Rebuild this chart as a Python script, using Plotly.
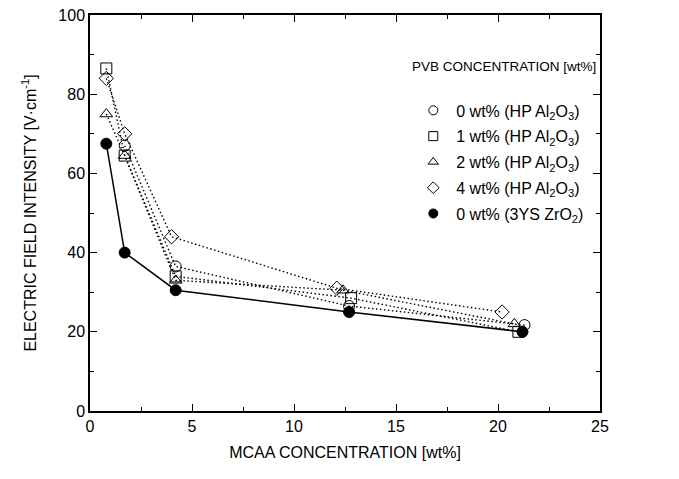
import plotly.graph_objects as go

# Data (MCAA concentration [wt%] vs electric field intensity [V/cm])
x_0 = [1.7, 4.2, 12.7, 21.3]
y_0 = [67.0, 36.5, 26.5, 21.7]
x_1 = [0.8, 1.7, 4.2, 12.8, 21.0]
y_1 = [86.5, 64.5, 34.0, 28.5, 20.0]
x_2 = [0.8, 1.7, 4.2, 12.4, 20.8]
y_2 = [75.0, 64.5, 33.0, 30.5, 22.0]
x_4 = [0.8, 1.7, 4.0, 12.1, 20.2]
y_4 = [84.0, 70.0, 44.0, 31.0, 25.0]
x_zr = [0.8, 1.7, 4.2, 12.7, 21.2]
y_zr = [67.5, 40.0, 30.5, 25.0, 20.0]

legend_title = "PVB CONCENTRATION [wt%]"
names = ["0 wt% (HP Al<sub>2</sub>O<sub>3</sub>)",
         "1 wt% (HP Al<sub>2</sub>O<sub>3</sub>)",
         "2 wt% (HP Al<sub>2</sub>O<sub>3</sub>)",
         "4 wt% (HP Al<sub>2</sub>O<sub>3</sub>)",
         "0 wt% (3YS ZrO<sub>2</sub>)"]

series = [(x_0, y_0, "circle-open", "dot"),
          (x_1, y_1, "square-open", "dot"),
          (x_2, y_2, "triangle-up-open", "dot"),
          (x_4, y_4, "diamond-open", "dot"),
          (x_zr, y_zr, "circle", "solid")]

fig = go.Figure()
for (xs, ys, sym, dash), nm in zip(series, names):
    fig.add_trace(go.Scatter(
        x=xs, y=ys, mode="lines+markers", showlegend=False,
        line=dict(color="black", width=1.5 if dash == "solid" else 1.4,
                  dash="solid" if dash == "solid" else "1.5px,2.5px"),
        marker=dict(symbol=sym, size=11, color="black",
                    line=dict(width=1, color="black"))))
for i, ((xs, ys, sym, dash), nm) in enumerate(zip(series, names)):
    fig.add_trace(go.Scatter(x=[None], y=[None], mode="markers", name=nm,
                             legendgroup=str(i),
                             marker=dict(symbol=sym, size=9, color="black",
                                         line=dict(width=1, color="black"))))

axis_common = dict(showline=True, linecolor="black", linewidth=1.5, mirror="ticks",
                   ticks="inside", ticklen=7, tickcolor="black", tickwidth=1,
                   showgrid=False, zeroline=False, automargin=False,
                   tickfont=dict(size=16, color="black"))

fig.update_xaxes(range=[0, 25], dtick=5,
                 minor=dict(dtick=2.5, ticks="inside", ticklen=4, tickcolor="black"),
                 title=dict(text="MCAA CONCENTRATION [wt%]", font=dict(size=16, color="black"),
                            standoff=13),
                 **axis_common)
fig.update_yaxes(range=[0, 100], dtick=20,
                 minor=dict(dtick=10, ticks="inside", ticklen=4, tickcolor="black"),
                 title=dict(text="ELECTRIC FIELD INTENSITY [V·cm<sup>-1</sup>]",
                            font=dict(size=16, color="black"), standoff=18),
                 **axis_common)

fig.add_annotation(text=legend_title, xref="paper", yref="paper", x=0.627, y=0.871,
                   xanchor="left", yanchor="middle", showarrow=False,
                   font=dict(size=13.5, color="black"))

fig.update_layout(
    width=679, height=479,
    margin=dict(l=90, r=79, t=15, b=68),
    plot_bgcolor="white", paper_bgcolor="white",
    font=dict(family="Liberation Sans, Arial, sans-serif", color="black"),
    legend=dict(x=0.628, y=0.802, xanchor="left", yanchor="top",
                font=dict(size=16), tracegroupgap=2, bgcolor="rgba(0,0,0,0)",
                itemwidth=36),
)

fig.write_html("out.html", config={"displayModeBar": False},
               post_script="document.body.style.margin='0';document.body.style.overflow='hidden';")
